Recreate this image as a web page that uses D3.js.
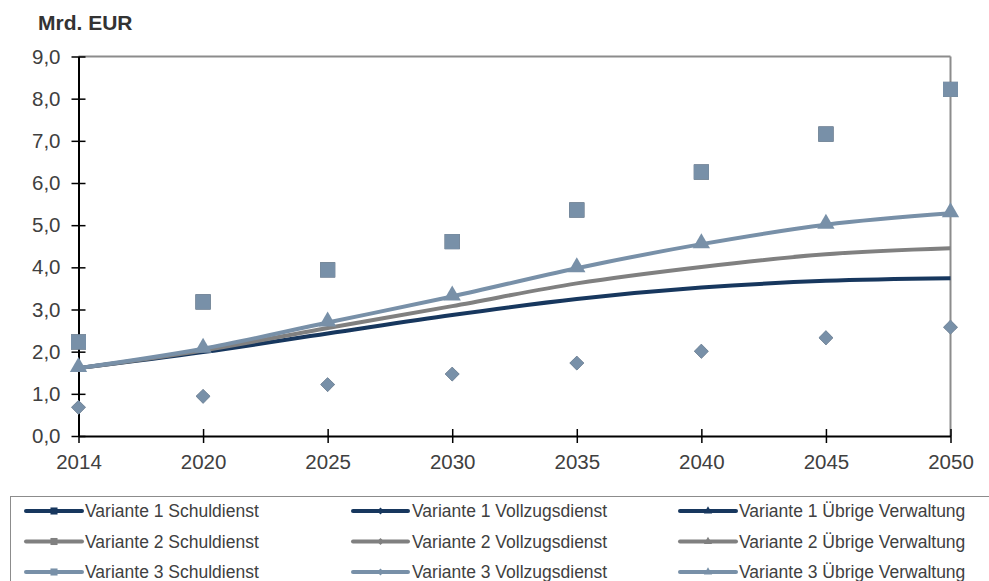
<!DOCTYPE html>
<html>
<head>
<meta charset="utf-8">
<script src="https://cdn.jsdelivr.net/npm/d3@7"></script>
<style>
  html, body { margin: 0; padding: 0; background: #fff; }
  svg { display: block; font-family: "Liberation Sans", Arial, sans-serif; }
</style>
</head>
<body>
<svg id="chart" width="989" height="581"></svg>
<script>
// ---- data ----
const years = ["2014", "2020", "2025", "2030", "2035", "2040", "2045", "2050"];
const yTicks = [0, 1, 2, 3, 4, 5, 6, 7, 8, 9];
const unitLabel = "Mrd. EUR";

const variants = ["Variante 1", "Variante 2", "Variante 3"];

// Schuldienst (squares)
const schuldienstV1 = [2.23, 3.18, 3.94, 4.61, 5.36, 6.26, 7.16, 8.22];
const schuldienstV2 = [2.23, 3.18, 3.94, 4.61, 5.36, 6.26, 7.16, 8.22];
const schuldienstV3 = [2.23, 3.18, 3.94, 4.61, 5.36, 6.26, 7.16, 8.22];
// Vollzugsdienst (diamonds)
const vollzugV1 = [0.68, 0.94, 1.22, 1.47, 1.73, 2.01, 2.33, 2.58];
const vollzugV2 = [0.68, 0.94, 1.22, 1.47, 1.73, 2.01, 2.33, 2.58];
const vollzugV3 = [0.68, 0.94, 1.22, 1.47, 1.73, 2.01, 2.33, 2.58];
// Übrige Verwaltung (lines)
const uebrigeV1 = [1.61, 1.99, 2.43, 2.87, 3.25, 3.52, 3.68, 3.74];
const uebrigeV2 = [1.61, 2.03, 2.56, 3.08, 3.62, 4.01, 4.31, 4.45];
const uebrigeV3 = [1.61, 2.07, 2.69, 3.31, 3.98, 4.55, 5.01, 5.28];

// ---- styles ----
const colors = ["#17375E", "#808080", "#7890A8"];
const textColor = "#404040";

const svg = d3.select("#chart");
const x = d3.scalePoint().domain(years).range([78.5, 950.5]);
const y = d3.scaleLinear().domain([0, 9]).range([436, 56.5]);

// frame (top & right gray)
svg.append("line").attr("x1", x(years[0])).attr("x2", x(years[years.length-1]))
  .attr("y1", y(9)).attr("y2", y(9)).attr("stroke", "#8c8c8c").attr("stroke-width", 2);
svg.append("line").attr("x1", x(years[years.length-1])).attr("x2", x(years[years.length-1]))
  .attr("y1", y(9)).attr("y2", y(0)).attr("stroke", "#8c8c8c").attr("stroke-width", 2);

// y axis
const yAxis = d3.axisLeft(y).tickValues(yTicks)
  .tickFormat(d => d3.format(".1f")(d).replace(".", ","))
  .tickSizeInner(6).tickSizeOuter(0).tickPadding(12);
const gy = svg.append("g").attr("transform", `translate(${x(years[0])},0)`).call(yAxis);
gy.select(".domain").attr("stroke", "#000").attr("stroke-width", 2);
gy.selectAll(".tick line").attr("x1", -7).attr("x2", 7).attr("stroke", "#000").attr("stroke-width", 1.5);
gy.selectAll(".tick text").attr("font-size", 20.5).attr("fill", textColor)
  .attr("font-family", "Liberation Sans, Arial, sans-serif");

// x axis
const xAxis = d3.axisBottom(x).tickSizeInner(6).tickSizeOuter(0).tickPadding(12);
const gx = svg.append("g").attr("transform", `translate(0,${y(0)})`).call(xAxis);
gx.select(".domain").attr("stroke", "#000").attr("stroke-width", 2);
gx.selectAll(".tick line").attr("y1", -7).attr("y2", 7).attr("stroke", "#000").attr("stroke-width", 1.5);
gx.selectAll(".tick text").attr("font-size", 20.5).attr("fill", textColor)
  .attr("font-family", "Liberation Sans, Arial, sans-serif");

// unit label
svg.append("text").attr("x", 38).attr("y", 30).text(unitLabel)
  .attr("font-size", 21).attr("font-weight", "bold").attr("fill", "#333");

// series
const uebrige = [uebrigeV1, uebrigeV2, uebrigeV3];
const schuld = [schuldienstV1, schuldienstV2, schuldienstV3];
const vollzug = [vollzugV1, vollzugV2, vollzugV3];

const line = d3.line().x((d, i) => x(years[i])).y(d => y(d)).curve(d3.curveCardinal.tension(0));

const plot = svg.append("g");
uebrige.forEach((vals, k) => {
  plot.append("path").datum(vals).attr("d", line)
    .attr("fill", "none").attr("stroke", colors[k]).attr("stroke-width", 4);
});

const sqSym = d3.symbol().type(d3.symbolSquare).size(225);
const diaSym = d3.symbol().type(d3.symbolDiamond2).size(130);
const triSym = d3.symbol().type(d3.symbolTriangle).size(130);

[0, 1, 2].forEach(k => {
  plot.selectAll(null).data(schuld[k]).enter().append("path")
    .attr("d", sqSym).attr("transform", (d, i) => `translate(${x(years[i])},${y(d)})`)
    .attr("fill", colors[k]);
  plot.selectAll(null).data(vollzug[k]).enter().append("path")
    .attr("d", diaSym).attr("transform", (d, i) => `translate(${x(years[i])},${y(d)})`)
    .attr("fill", colors[k]);
});
// triangles on Variante 3 line
plot.selectAll(null).data(uebrigeV3).enter().append("path")
  .attr("d", triSym).attr("transform", (d, i) => `translate(${x(years[i])},${y(d) - 1})`)
  .attr("fill", colors[2]);

// legend
svg.append("rect").attr("x", 10.5).attr("y", 496.5).attr("width", 1000).attr("height", 200)
  .attr("fill", "none").attr("stroke", "#8c8c8c").attr("stroke-width", 1);

const legendCols = [
  { name: "Schuldienst", x1: 26, x2: 82, tx: 85, sym: d3.symbol().type(d3.symbolSquare).size(50) },
  { name: "Vollzugsdienst", x1: 353, x2: 408, tx: 412, sym: d3.symbol().type(d3.symbolDiamond2).size(30) },
  { name: "Übrige Verwaltung", x1: 680, x2: 736, tx: 739, sym: d3.symbol().type(d3.symbolTriangle).size(30) }
];
const rowY = [511, 541.5, 572];
variants.forEach((v, r) => {
  legendCols.forEach(c => {
    const g = svg.append("g");
    g.append("line").attr("x1", c.x1).attr("x2", c.x2).attr("y1", rowY[r]).attr("y2", rowY[r])
      .attr("stroke", colors[r]).attr("stroke-width", 4).attr("stroke-linecap", "round");
    g.append("path").attr("d", c.sym).attr("transform", `translate(${(c.x1 + c.x2) / 2},${rowY[r]})`)
      .attr("fill", colors[r]);
    g.append("text").attr("x", c.tx).attr("y", rowY[r]).attr("dy", "0.36em")
      .attr("font-size", 17.5).attr("fill", textColor).text(`${v} ${c.name}`);
  });
});
</script>
</body>
</html>
